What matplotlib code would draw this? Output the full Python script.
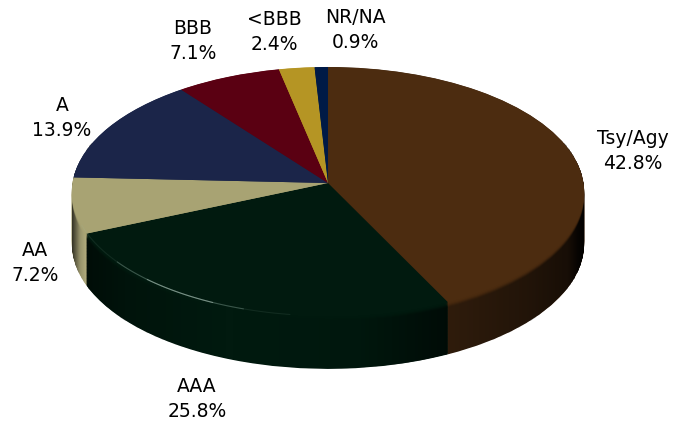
import numpy as np
import matplotlib
matplotlib.use("Agg")
import matplotlib.pyplot as plt
from matplotlib.colors import LinearSegmentedColormap
from matplotlib.path import Path
from matplotlib.transforms import Affine2D, Transform

categories = ["Tsy/Agy", "AAA", "AA", "A", "BBB", "<BBB", "NR/NA"]
shares = [42.8, 25.8, 7.2, 13.9, 7.1, 2.4, 0.9]
top_colors = ["#4c2c10", "#011a0f", "#a8a373", "#1b2549", "#5a0012", "#b59524", "#001a46"]
side_colors = ["#2f1c0c", "#011a0f", "#b0ab7c", "#1b2549", "#5a0012", "#b59524", "#001a46"]

W, H = 677, 423
CX, CY = 328, 183
RX, RY = 255.5, 124.3
TILT = 0.0714
DEPTH = 52

# label centres in pixels
label_pos = [(633, 151), (197, 399), (35, 263), (62, 118), (193, 41), (274, 32), (355, 30)]


class Perspective(Transform):
    """Unit circle to the tilted ellipse, back of the pie further away."""
    input_dims = 2
    output_dims = 2

    def transform_non_affine(self, values):
        values = np.asarray(values, dtype=float)
        k = 1 + TILT * values[:, 1]
        return np.column_stack([RX * values[:, 0] / k, RY * values[:, 1] / k])


def draw_layer(colors, drop, alpha=1.0):
    wedges, _ = ax.pie(shares, colors=colors, startangle=90, counterclock=False,
                       radius=1, wedgeprops={"linewidth": 0, "alpha": alpha})
    for w in wedges:
        w.set_transform(persp + Affine2D().translate(0, -drop) + ax.transData)


fig = plt.figure(figsize=(W / 100, H / 100), dpi=100)
ax = fig.add_axes([0, 0, 1, 1])
persp = Perspective()

# side wall, stacked from the bottom up
for d in np.arange(DEPTH, 0, -0.75):
    draw_layer(side_colors, d)

# shading of the side wall, left to right (x in pixels from the centre)
xs = np.linspace(-256, 256, 513)
stops_x = [-256, -248, -242, -241, -200, -100, 30, 119, 120, 200, 240, 250, 256]
stops_a = [0.72, 0.15, 0.0, 0.50, 0.25, 0.0, 0.10, 0.55, 0.0, 0.28, 0.50, 0.85, 0.95]
shade = np.interp((xs[:-1] + xs[1:]) / 2, stops_x, stops_a).reshape(1, -1)
black_alpha = LinearSegmentedColormap.from_list("shade", [(0, 0, 0, 0), (0, 0, 0, 1)])
mesh = ax.pcolormesh(xs, [-200, 40], shade, cmap=black_alpha, vmin=0, vmax=1, linewidth=0)

t = np.linspace(0, 2 * np.pi, 721)
rim = persp.transform(np.column_stack([np.cos(t), np.sin(t)]))
rim[np.sin(t) < -TILT, 1] -= DEPTH
mesh.set_clip_path(Path(rim), transform=ax.transData)

# soft bevel between side and top
for d, al in [(5, 0.15), (4, 0.3), (3, 0.45), (2, 0.6), (1, 0.8)]:
    draw_layer(top_colors, d, alpha=al)

# top face
draw_layer(top_colors, 0)

# thin highlight on the AAA edge
for a0, a1, al, col in [(200, 262, 0.10, "#9fc4b4"), (218, 252, 0.25, "#b5d6c8"), (228, 245, 0.40, "#d5e8df")]:
    ang = np.radians(np.linspace(a0, a1, 80))
    edge = persp.transform(np.column_stack([np.cos(ang), np.sin(ang)]))
    ax.plot(edge[:, 0], edge[:, 1] + 1, color=col, alpha=al, lw=0.8)

ax.set_aspect("auto")
ax.set_xlim(-CX, W - CX)
ax.set_ylim(CY - H, CY)
ax.set_xticks([])
ax.set_yticks([])
ax.set_frame_on(False)

for name, val, (px, py) in zip(categories, shares, label_pos):
    fig.text(px / W, 1 - py / H, f"{name}\n{val}%", ha="center", va="center",
             fontsize=13.5, color="black", family="DejaVu Sans", linespacing=1.35)

fig.savefig("out.png", dpi=100, facecolor="white")
